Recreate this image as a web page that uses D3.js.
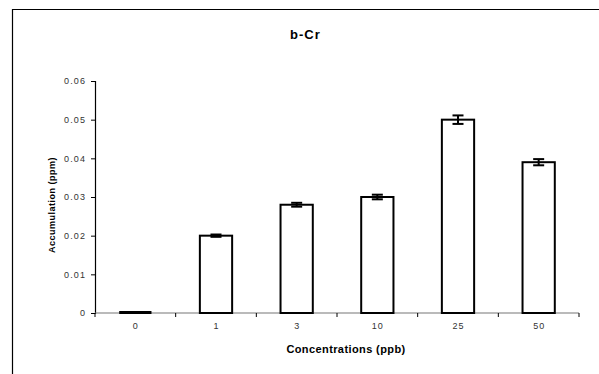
<!DOCTYPE html>
<html><head><meta charset="utf-8">
<script src="https://cdn.jsdelivr.net/npm/d3@7"></script>
<style>body{margin:0;background:#fff}svg{display:block}text{font-family:"Liberation Sans",Arial,sans-serif}</style>
</head><body><svg id="c" width="599" height="374"></svg>
<script>
const categories = ["0","1","3","10","25","50"];
const values = [0, 0.020, 0.028, 0.030, 0.050, 0.039];
const errors = [0, 0.0003, 0.0005, 0.0006, 0.0011, 0.0008];
const yTicks = [0, 0.01, 0.02, 0.03, 0.04, 0.05, 0.06];
const yTickLabels = ["0","0.01","0.02","0.03","0.04","0.05","0.06"];

const svg = d3.select("#c");
const m = {left:95, right:20, top:81, bottom:61};
const W = 599, H = 374;

// outer frame (top and left edges visible)
svg.append("path").attr("d","M12.5,374 V9.5 H599").attr("fill","none").attr("stroke","#000").attr("stroke-width",1.2);

const x = d3.scaleBand().domain(categories).range([m.left, W - m.right]).paddingInner(0.6).paddingOuter(0.3);
const xb = d3.scaleBand().domain(categories).range([m.left, W - m.right]);
const y = d3.scaleLinear().domain([0, 0.06]).range([H - m.bottom, m.top]);

// title
svg.append("text").attr("x",290).attr("y",38.5).attr("text-anchor","start")
  .attr("font-size",13).attr("font-weight","bold").attr("letter-spacing",1).text("b-Cr");

// y axis
const yAxis = svg.append("g").attr("transform",`translate(${m.left},0)`)
  .call(d3.axisLeft(y).tickValues(yTicks).tickFormat((d,i)=>yTickLabels[i]).tickSize(4).tickPadding(5));
yAxis.select(".domain").attr("stroke","#000").attr("stroke-width",1.2);
yAxis.selectAll(".tick line").attr("stroke","#000");
yAxis.selectAll("text").attr("font-size",9).attr("fill","#333").attr("letter-spacing",1.1)
  .attr("font-family","Liberation Sans, Arial, sans-serif");

// x axis (ticks at band boundaries)
const xAxisG = svg.append("g").attr("transform",`translate(0,${y(0)})`);
xAxisG.append("line").attr("x1",m.left).attr("x2",W-m.right).attr("stroke","#777").attr("stroke-width",1.2);
const bounds = categories.map(c=>xb(c)).concat([xb(categories[categories.length-1])+xb.bandwidth()]);
xAxisG.selectAll("line.t").data(bounds).join("line").attr("class","t")
  .attr("x1",d=>d).attr("x2",d=>d).attr("y1",0).attr("y2",4).attr("stroke","#000");
xAxisG.selectAll("text").data(categories).join("text")
  .attr("x",d=>xb(d)+xb.bandwidth()/2+0.5).attr("y",16).attr("text-anchor","middle")
  .attr("font-size",9).attr("fill","#333").attr("letter-spacing",1).text(d=>d);

// bars
const barG = svg.append("g");
categories.forEach((c,i)=>{
  if(values[i] === 0){
    barG.append("line").attr("x1",x(c)).attr("x2",x(c)+x.bandwidth())
      .attr("y1",y(0)-0.5).attr("y2",y(0)-0.5).attr("stroke","#000").attr("stroke-width",3);
  } else {
    barG.append("rect").attr("x",x(c)).attr("width",x.bandwidth())
      .attr("y",y(values[i])).attr("height",y(0)-y(values[i]))
      .attr("fill","#fff").attr("stroke","#000").attr("stroke-width",2);
  }
});

// error bars
const eb = svg.append("g").attr("stroke","#000").attr("stroke-width",2);
categories.forEach((c,i)=>{
  if(!errors[i]) return;
  const cx = x(c)+x.bandwidth()/2;
  const y1 = y(values[i]+errors[i]), y2 = y(values[i]-errors[i]);
  eb.append("line").attr("x1",cx).attr("x2",cx).attr("y1",y1).attr("y2",y2);
  eb.append("line").attr("x1",cx-5.5).attr("x2",cx+5.5).attr("y1",y1).attr("y2",y1);
  eb.append("line").attr("x1",cx-5.5).attr("x2",cx+5.5).attr("y1",y2).attr("y2",y2);
});

// axis titles
svg.append("text").attr("transform","translate(52.5,205) rotate(-90)").attr("text-anchor","middle")
  .attr("dominant-baseline","middle").attr("font-size",9).attr("font-weight","bold")
  .attr("letter-spacing",0.5).text("Accumulation (ppm)");
svg.append("text").attr("x",346).attr("y",353).attr("text-anchor","middle")
  .attr("font-size",11).attr("font-weight","bold").attr("letter-spacing",0.4).text("Concentrations (ppb)");
</script></body></html>
